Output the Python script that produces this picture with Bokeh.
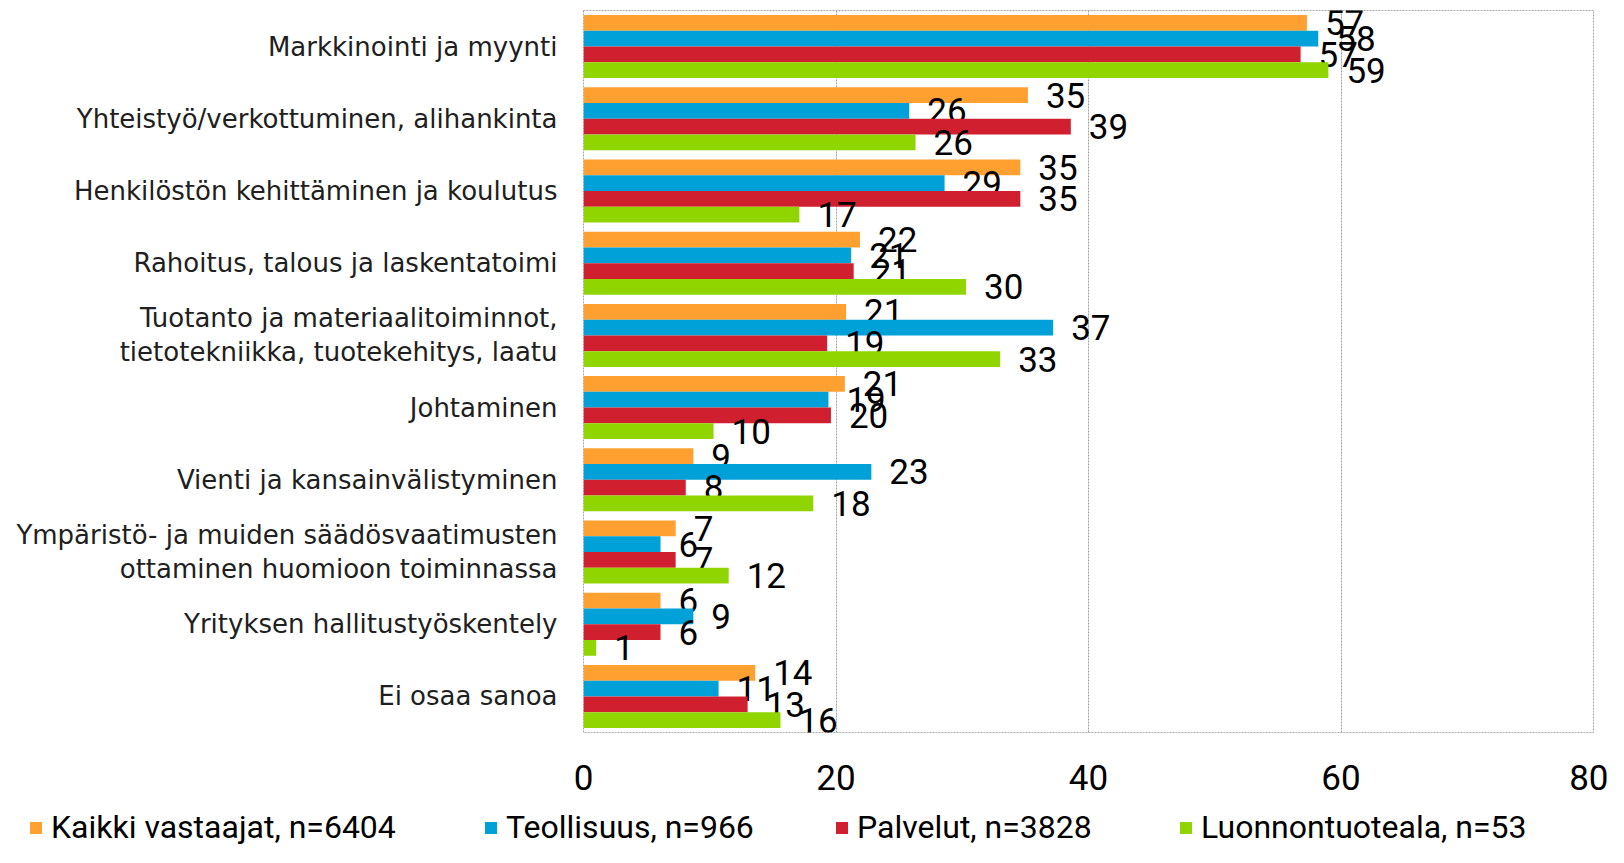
from bokeh.plotting import figure
from bokeh.models import (ColumnDataSource, FactorRange, Range1d, Legend, LegendItem,
                          FixedTicker)
from bokeh.layouts import column
from bokeh.transform import dodge
from bokeh.core.properties import value
from bokeh.embed import file_html
from bokeh.resources import INLINE

categories = [
    "Markkinointi ja myynti",
    "Yhteistyö/verkottuminen, alihankinta",
    "Henkilöstön kehittäminen ja koulutus",
    "Rahoitus, talous ja laskentatoimi",
    "Tuotanto ja materiaalitoiminnot,\ntietotekniikka, tuotekehitys, laatu",
    "Johtaminen",
    "Vienti ja kansainvälistyminen",
    "Ympäristö- ja muiden säädösvaatimusten\nottaminen huomioon toiminnassa",
    "Yrityksen hallitustyöskentely",
    "Ei osaa sanoa",
]
kaikki = [57.3, 35.2, 34.6, 21.9, 20.8, 20.7, 8.7, 7.3, 6.1, 13.6]
teollisuus = [58.2, 25.8, 28.6, 21.2, 37.2, 19.4, 22.8, 6.1, 8.7, 10.7]
palvelut = [56.8, 38.6, 34.6, 21.4, 19.3, 19.6, 8.1, 7.3, 6.1, 13.0]
luonnontuoteala = [59.0, 26.3, 17.1, 30.3, 33.0, 10.3, 18.2, 11.5, 1.0, 15.6]
series_names = ["Kaikki vastaajat, n=6404", "Teollisuus, n=966",
                "Palvelut, n=3828", "Luonnontuoteala, n=53"]
x_ticks = [0, 20, 40, 60, 80]

colors = ["#FFA030", "#00A0D8", "#D02030", "#90D400"]

src = ColumnDataSource(dict(
    cat=categories,
    s0=kaikki, s1=teollisuus, s2=palvelut, s3=luonnontuoteala,
    l0=[str(round(v)) for v in kaikki],
    l1=[str(round(v)) for v in teollisuus],
    l2=[str(round(v)) for v in palvelut],
    l3=[str(round(v)) for v in luonnontuoteala],
))

NUM_FONT = "Roboto"
NUM_SIZE = "35px"

W = 1608
H_MAIN, H_LEG = 802, 45
FL, FR, FT, FB = 583, 1593, 10, 732
p = figure(width=W, height=H_MAIN, output_backend="svg", toolbar_location=None,
           y_range=FactorRange(*list(reversed(categories)), range_padding=0),
           x_range=Range1d(0, 80),
           min_border_left=FL, min_border_right=W - FR, min_border_top=FT,
           min_border_bottom=H_MAIN - FB)
p.frame_align = False
p.background_fill_color = "white"
p.border_fill_color = "white"
p.outline_line_color = "#A8A8A8"
p.outline_line_dash = "2 1"

offsets = [0.327, 0.109, -0.109, -0.327]
bh = 0.218
for i in range(4):
    p.hbar(y=dodge("cat", offsets[i], range=p.y_range), right=f"s{i}", left=0,
           height=bh, color=colors[i], line_color=None, source=src)
    p.text(x=f"s{i}", y=dodge("cat", offsets[i], range=p.y_range), text=f"l{i}",
           source=src, x_offset=18, text_baseline="middle", text_align="left",
           text_font=value(NUM_FONT), text_font_size=NUM_SIZE,
           text_color="black")

# axes
p.xaxis.ticker = FixedTicker(ticks=x_ticks)
p.xaxis.axis_line_color = None
p.xaxis.major_tick_line_color = None
p.xaxis.minor_tick_line_color = None
p.xaxis.major_label_standoff = 26
p.xaxis.major_label_text_font = NUM_FONT
p.xaxis.major_label_text_font_size = NUM_SIZE
p.xaxis.major_label_text_color = "black"

p.yaxis.axis_line_color = None
p.yaxis.major_tick_line_color = None
p.yaxis.minor_tick_line_color = None
p.yaxis.major_label_standoff = 20
p.yaxis.major_label_text_font = "DejaVu Sans"
p.yaxis.major_label_text_font_size = "26px"
p.yaxis.major_label_text_color = "#202020"
p.yaxis.major_label_text_line_height = 1.13

p.ygrid.grid_line_color = None
p.xgrid.grid_line_color = "#A0A0A0"
p.xgrid.grid_line_dash = "2 1"

# legend strip below the chart
lp = figure(width=W, height=H_LEG, output_backend="svg", toolbar_location=None,
            x_range=Range1d(0, 1), y_range=Range1d(0, 1),
            x_axis_location=None, y_axis_location=None,
            min_border_left=0, min_border_right=0, min_border_top=0,
            min_border_bottom=0)
lp.frame_align = False
lp.outline_line_color = None
lp.grid.grid_line_color = None
lp.background_fill_color = "white"
leg_x = [28, 483, 834, 1178]
for i in range(4):
    # legend swatch renderer; its single bar lies entirely outside the visible ranges
    r = lp.hbar(y=[10], right=[13], left=12, height=0.5, color=colors[i],
                line_color=None)
    lg = Legend(items=[LegendItem(label=series_names[i], renderers=[r])],
                location=(leg_x[i], 1), orientation="horizontal",
                border_line_color=None, background_fill_alpha=0,
                padding=0, margin=0, glyph_width=15, glyph_height=15,
                label_standoff=8, label_height=36,
                label_text_font=NUM_FONT, label_text_baseline="middle",
                label_text_font_size="32px", label_text_color="black")
    lp.add_layout(lg, "center")

layout = column(p, lp, spacing=0)
open("out.html", "w").write(file_html(layout, INLINE))
